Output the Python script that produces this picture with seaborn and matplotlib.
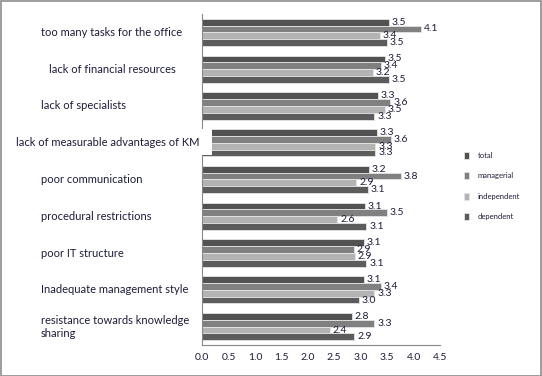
import numpy as np
import pandas as pd
import matplotlib
matplotlib.use("Agg")
import matplotlib.pyplot as plt
import matplotlib.transforms as mtransforms
from matplotlib.patches import Rectangle
import seaborn as sns

# Data
categories = [
    "too many tasks for the office",
    "lack of financial resources",
    "lack of specialists",
    "lack of measurable advantages of KM",
    "poor communication",
    "procedural restrictions",
    "poor IT structure",
    "Inadequate management style",
    "resistance towards knowledge\nsharing",
]
groups = ["total", "managerial", "independent", "dependent"]
total = [3.54, 3.46, 3.33, 3.31, 3.16, 3.08, 3.06, 3.06, 2.84]
managerial = [4.14, 3.38, 3.56, 3.57, 3.76, 3.50, 2.87, 3.38, 3.26]
independent = [3.36, 3.23, 3.46, 3.28, 2.92, 2.56, 2.89, 3.26, 2.42]
dependent = [3.49, 3.53, 3.26, 3.28, 3.13, 3.11, 3.11, 2.97, 2.88]
xticks = [0.0, 0.5, 1.0, 1.5, 2.0, 2.5, 3.0, 3.5, 4.0, 4.5]

colors = ["#525252", "#808080", "#b3b3b3", "#5c5c5c"]
text_color = "#1c1c3a"

df = pd.DataFrame({
    "issue": categories * len(groups),
    "group": np.repeat(groups, len(categories)),
    "score": total + managerial + independent + dependent,
})

sns.set_style("white")
plt.rcParams["font.family"] = ["Lato", "DejaVu Sans"]

W, H = 542, 376
fig = plt.figure(figsize=(W / 100, H / 100), dpi=100)
ax = fig.add_axes([202 / W, 1 - 345 / H, (440 - 202) / W, (345 - 14) / H])

sns.barplot(data=df, y="issue", x="score", hue="group", order=categories,
            hue_order=groups, palette=colors, width=0.74, edgecolor="#e4e4e4",
            linewidth=0.6, saturation=1, ax=ax)

for c in ax.containers:
    ax.bar_label(c, fmt="%.1f", padding=2, fontsize=7.5, color=text_color)

ax.set_xlim(0, 4.5)
ax.set_xticks(xticks)
ax.set_xticklabels([f"{t:.1f}" for t in xticks], fontsize=7.5, color=text_color)
ax.set_xlabel("")
ax.set_ylabel("")
ax.set_yticks(range(len(categories)))
ax.set_yticklabels([])
ax.set_yticks(np.arange(-0.5, len(categories), 1), minor=True)
ax.tick_params(axis="y", which="major", length=0)
ax.tick_params(axis="y", which="minor", length=3, width=0.8, color="#888888", direction="out")
ax.tick_params(axis="x", length=3, width=0.8, color="#888888", direction="out", pad=3)
for s in ["top", "right"]:
    ax.spines[s].set_visible(False)
for s in ["left", "bottom"]:
    ax.spines[s].set_color("#888888")
    ax.spines[s].set_linewidth(0.8)

# category labels, left aligned like the original
trans = mtransforms.blended_transform_factory(fig.transFigure, ax.transData)
label_x = {1: 49, 3: 16}
for i, cat in enumerate(categories):
    x_px = label_x.get(i, 41)
    ax.text(x_px / W, i, cat, transform=trans, ha="left", va="center",
            fontsize=8, color=text_color, clip_on=False, zorder=5)

# white label box that hides the start of the KM bars
ax.add_patch(Rectangle((14 / W, 2.62), (212 - 14) / W, 0.72, transform=trans,
                       facecolor="white", edgecolor="none", clip_on=False, zorder=4))

handles, labels = ax.get_legend_handles_labels()
ax.legend(handles, labels, loc="center left", bbox_to_anchor=(464 / W, 1 - 186 / H),
          bbox_transform=fig.transFigure, frameon=False, fontsize=5.5,
          handlelength=0.6, handleheight=1.0, handletextpad=1.2,
          labelspacing=1.75, borderpad=0, borderaxespad=0, labelcolor=text_color)

fig.patches.append(Rectangle((0.5 / W, 0.5 / H), 1 - 1.5 / W, 1 - 1.5 / H,
                             transform=fig.transFigure, fill=False,
                             edgecolor="#8c8c8c", linewidth=1.2))

fig.savefig("out.png", dpi=100)
